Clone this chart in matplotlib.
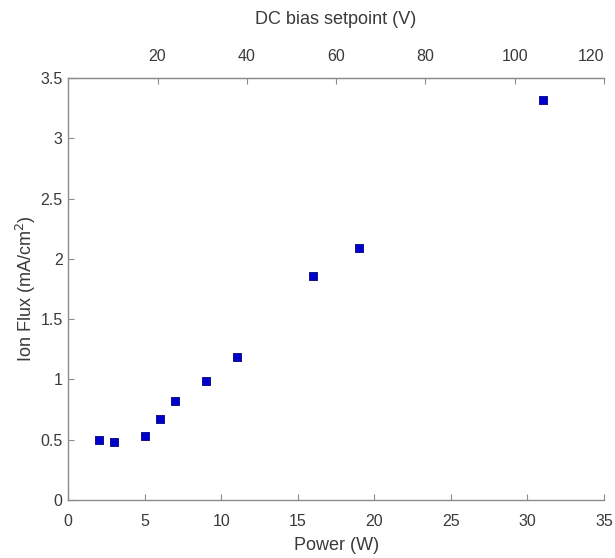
import numpy as np
import matplotlib.pyplot as plt

plt.rcParams['font.family'] = ['Liberation Sans', 'DejaVu Sans']

# power (W) vs ion flux (mA/cm^2)
power = [2, 3, 5, 6, 7, 9, 11, 16, 19, 31]
ion_flux = [0.50, 0.48, 0.53, 0.67, 0.82, 0.99, 1.19, 1.86, 2.09, 3.32]

x_ticks = [0, 5, 10, 15, 20, 25, 30, 35]
y_ticks = [0, 0.5, 1, 1.5, 2, 2.5, 3, 3.5]
top_ticks = [20, 40, 60, 80, 100, 120]

gray = '#8c8c8c'
txt = '#3a3a3a'

fig = plt.figure(figsize=(6.15, 5.58), dpi=100)
ax = fig.add_axes([0.111, 0.104, 0.871, 0.756])

ax.scatter(power, ion_flux, marker='s', s=34, color='#0000cc',
           edgecolors='#00007a', linewidths=0.6, zorder=3)

ax.set_xlim(0, 35)
ax.set_ylim(0, 3.5)
ax.set_xticks(x_ticks)
ax.set_xticklabels([str(t) for t in x_ticks])
ax.set_yticks(y_ticks)
ax.set_yticklabels(['0', '0.5', '1', '1.5', '2', '2.5', '3', '3.5'])
ax.set_xlabel('Power (W)', fontsize=13, color=txt, labelpad=6)
ax.set_ylabel('Ion Flux (mA/cm$^2$)', fontsize=13, color=txt, labelpad=2)

ax.spines['right'].set_visible(False)
for s in ['left', 'bottom', 'top']:
    ax.spines[s].set_color(gray)
    ax.spines[s].set_linewidth(1.0)
ax.tick_params(direction='in', length=4, color=gray, labelcolor=txt,
               labelsize=11.5, width=0.8)
ax.tick_params(axis='x', pad=10)
ax.tick_params(axis='y', pad=4)

top = ax.twiny()
top.set_xlim(0, 120)
top.set_xticks(top_ticks)
top.set_xticklabels([str(t) for t in top_ticks])
top.get_xticklabels()[-1].set_ha('right')
top.set_xlabel('DC bias setpoint (V)', fontsize=13, color=txt, labelpad=18)
for s in ['left', 'bottom', 'right']:
    top.spines[s].set_visible(False)
top.spines['top'].set_color(gray)
top.tick_params(direction='in', length=4, color=gray, labelcolor=txt,
                labelsize=11.5, width=0.8, pad=10)

fig.savefig('out.png', dpi=100)
